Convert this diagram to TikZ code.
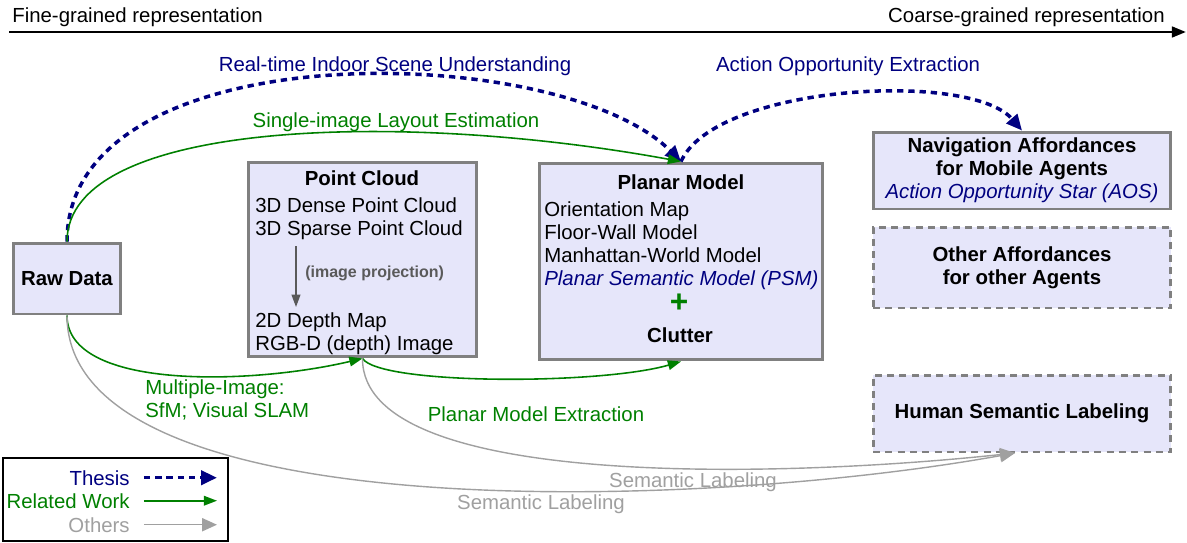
\documentclass[tikz,border=0pt]{standalone}
\usepackage{fontspec}
\setmainfont{Liberation Sans}
\usetikzlibrary{arrows.meta}

\definecolor{thesisblue}{RGB}{0,0,128}
\definecolor{relgreen}{RGB}{0,128,0}
\definecolor{othergray}{RGB}{160,160,160}
\definecolor{boxfill}{RGB}{230,230,250}
\definecolor{boxline}{RGB}{128,128,128}
\definecolor{projgray}{RGB}{90,90,90}

\tikzset{
  repbox/.style={draw=boxline, fill=boxfill, line width=1.7pt, inner sep=0pt, align=center},
  otherbox/.style={repbox, dash pattern=on 4pt off 3pt},
  txt/.style={inner sep=0pt},
  axis/.style={black, line width=1.6pt, -{Triangle[length=8pt,width=6pt]}},
  thesis/.style={thesisblue, line width=2pt, dash pattern=on 3.6pt off 2.8pt, -{Triangle[length=9pt,width=8pt]}},
  related/.style={relgreen, line width=0.9pt, -{Triangle[length=7.5pt,width=5.5pt]}},
  others/.style={othergray, line width=0.8pt, -{Triangle[length=8.5pt,width=7.5pt]}},
  projarrow/.style={projgray, line width=0.8pt, -{Triangle[length=7pt,width=5pt]}}
}

\begin{document}
\begin{tikzpicture}[x=0.02cm, y=-0.02cm, font=\fontsize{11.6pt}{13pt}\selectfont]
    \useasboundingbox (0,0) rectangle (1187,542);

    % granularity axis
    \node[txt, anchor=base west] (finelabel) at (12,22) {Fine-grained representation};
    \node[txt, anchor=base east] (coarselabel) at (1165,22) {Coarse-grained representation};
    \coordinate (axisleft) at (9,32);
    \coordinate (axisright) at (1186,32);
    \draw[axis] (axisleft) -- (axisright);

    % raw data
    \node[repbox, minimum width=2.16cm, minimum height=1.42cm] (rawdata) at (67,278.5) {\textbf{Raw Data}};

    % point cloud
    \node[repbox, minimum width=4.58cm, minimum height=3.9cm] (pointcloud) at (362.5,259.5) {};
    \node[txt, anchor=base] (pctitle) at (362,185) {\textbf{Point Cloud}};
    \node[txt, anchor=base west] (pcdense) at (255,212) {3D Dense Point Cloud};
    \node[txt, anchor=base west] (pcsparse) at (255,235) {3D Sparse Point Cloud};
    \node[txt, anchor=base west] (pcdepth) at (255,327) {2D Depth Map};
    \node[txt, anchor=base west] (pcrgbd) at (255,350) {RGB-D (depth) Image};
    \coordinate (projtop) at (296,246);
    \coordinate (projbottom) at (296,307);
    \draw[projarrow] (projtop) -- (projbottom);
    \node[txt, anchor=base west, text=projgray, font=\fontsize{9.1pt}{11pt}\selectfont\bfseries] (projlabel) at (305,277) {(image projection)};

    % planar model
    \node[repbox, minimum width=5.68cm, minimum height=3.94cm] (planar) at (681,261.5) {};
    \node[txt, anchor=base] (pmtitle) at (681,189) {\textbf{Planar Model}};
    \node[txt, anchor=base west] (pmorient) at (544,216) {Orientation Map};
    \node[txt, anchor=base west] (pmfloor) at (544,239) {Floor-Wall Model};
    \node[txt, anchor=base west] (pmmanhattan) at (544,262) {Manhattan-World Model};
    \node[txt, anchor=base west, text=thesisblue] (pmpsm) at (544,285) {\itshape Planar Semantic Model (PSM)};
    \node[txt, text=relgreen, font=\fontsize{18pt}{18pt}\selectfont\bfseries] (pmplus) at (679,303) {+};
    \node[txt, anchor=base] (pmclutter) at (680,342) {\textbf{Clutter}};

    % affordances
    \node[repbox, minimum width=5.96cm, minimum height=1.54cm] (navaff) at (1022,170.5)
        {\textbf{Navigation Affordances}\\\textbf{for Mobile Agents}\\{\color{thesisblue}\itshape Action Opportunity Star (AOS)}};
    \node[otherbox, minimum width=5.96cm, minimum height=1.62cm] (otheraff) at (1022,267.5)
        {\textbf{Other Affordances}\\\textbf{for other Agents}};
    \node[otherbox, minimum width=5.96cm, minimum height=1.54cm] (humanlabel) at (1022,413.5)
        {\textbf{Human Semantic Labeling}};

    % thesis
    \draw[thesis] (rawdata.north) .. controls (67,30) and (560,40) .. (planar.north);
    \draw[thesis] (planar.north) .. controls (715,85) and (970,70) .. (navaff.north);
    \node[txt, anchor=base, text=thesisblue] (rtlabel) at (395,71) {Real-time Indoor Scene Understanding};
    \node[txt, anchor=base, text=thesisblue] (aoelabel) at (848,71) {Action Opportunity Extraction};

    % related work
    \draw[related] (rawdata.north) .. controls (67,120) and (400,110) .. (planar.north);
    \draw[related] (rawdata.south) .. controls (67,390) and (250,385) .. (pointcloud.south);
    \draw[related] (pointcloud.south) .. controls (380,385) and (600,385) .. (planar.south);
    \node[txt, anchor=base, text=relgreen] (silabel) at (396,127) {Single-image Layout Estimation};
    \node[txt, anchor=base west, text=relgreen] (milabel) at (145,394) {Multiple-Image:};
    \node[txt, anchor=base west, text=relgreen] (slamlabel) at (145,417) {SfM; Visual SLAM};
    \node[txt, anchor=base, text=relgreen] (pmelabel) at (536,421) {Planar Model Extraction};

    % others
    \coordinate (semend) at (1015,453);
    \draw[others] (rawdata.south) .. controls (67,530) and (700,510) .. (semend);
    \draw[others] (pointcloud.south) .. controls (362,490) and (780,478) .. (semend);
    \node[txt, anchor=base, text=othergray] (semupper) at (693,487) {Semantic Labeling};
    \node[txt, anchor=base, text=othergray] (semlower) at (541,509) {Semantic Labeling};

    % legend
    \node[draw=black, line width=1pt, minimum width=4.5cm, minimum height=1.66cm, inner sep=0pt] (legend) at (115.5,499.5) {};
    \node[txt, anchor=base east, text=thesisblue] (lgthesis) at (130,485) {Thesis};
    \node[txt, anchor=base east, text=relgreen] (lgrelated) at (130,508) {Related Work};
    \node[txt, anchor=base east, text=othergray] (lgothers) at (130,532) {Others};
    \draw[thesis] ([xshift=0.28cm]lgthesis.east) -- ([xshift=1.74cm]lgthesis.east);
    \draw[related] ([xshift=0.28cm]lgrelated.east) -- ([xshift=1.74cm]lgrelated.east);
    \draw[others] ([xshift=0.28cm]lgothers.east) -- ([xshift=1.74cm]lgothers.east);
\end{tikzpicture}
\end{document}
